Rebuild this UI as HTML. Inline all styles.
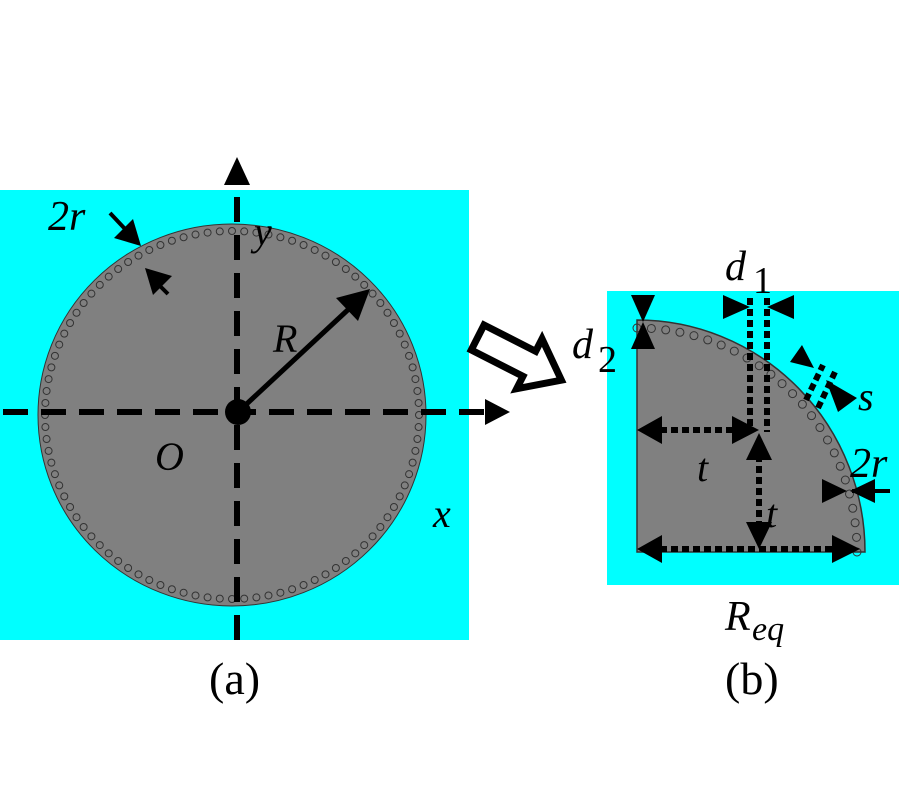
<!DOCTYPE html>
<html><head><meta charset="utf-8"><style>
html,body{margin:0;padding:0;background:#fff;width:900px;height:800px;overflow:hidden}
text{font-family:"Liberation Serif",serif;fill:#000}
.i{font-style:italic}
</style></head><body>
<svg id="s" width="900" height="800" viewBox="0 0 900 800" xmlns="http://www.w3.org/2000/svg">
<!-- (a) -->
<rect x="0" y="190" width="469" height="450" fill="#00ffff"/>
<ellipse cx="232" cy="415" rx="194" ry="191" fill="#808080" stroke="#333" stroke-width="1"/>
<g id="ca" fill="none" stroke="#333" stroke-width="1"></g>
<line x1="237" y1="640" x2="237" y2="185" stroke="#000" stroke-width="6" stroke-dasharray="25,13"/>
<polygon points="237,157 224,185 250,185" fill="#000"/>
<line x1="3" y1="412" x2="485" y2="412" stroke="#000" stroke-width="6" stroke-dasharray="25,13"/>
<polygon points="510,412 485,399 485,425" fill="#000"/>
<circle cx="238" cy="412" r="13" fill="#000"/>
<line x1="238" y1="412" x2="352" y2="306" stroke="#000" stroke-width="5"/>
<polygon points="370,289 336,298 358,321" fill="#000"/>
<line x1="110" y1="213" x2="126" y2="230" stroke="#000" stroke-width="4"/>
<polygon points="141,246 114,238 133,219" fill="#000"/>
<line x1="168" y1="294" x2="155" y2="281" stroke="#000" stroke-width="4"/>
<polygon points="145,268 172,276 153,295" fill="#000"/>
<text x="48" y="230" font-size="42" class="i">2r</text>
<text x="254" y="245" font-size="40" class="i">y</text>
<text x="273" y="352" font-size="40" class="i">R</text>
<text x="155" y="470" font-size="40" class="i">O</text>
<text x="433" y="527" font-size="40" class="i">x</text>
<text x="209" y="694" font-size="46">(a)</text>
<!-- hollow arrow -->
<g transform="translate(484,325) rotate(27)">
<polygon points="0,0 58,0 58,-14 94,14 58,42 58,28 0,28" fill="#fff" stroke="#000" stroke-width="7" stroke-linejoin="miter"/>
</g>
<!-- (b) -->
<rect x="607" y="291" width="292" height="294" fill="#00ffff"/>
<path d="M637,552 L637,320 A228,232 0 0 1 865,552 Z" fill="#808080" stroke="#333" stroke-width="1.5"/>
<g id="cb" fill="none" stroke="#333" stroke-width="1"></g>
<g stroke="#000" stroke-width="6" stroke-dasharray="7,4" fill="none">
<line x1="750" y1="298" x2="750" y2="428"/>
<line x1="767" y1="298" x2="767" y2="432"/>
<line x1="660" y1="430" x2="735" y2="430"/>
<line x1="759" y1="455" x2="759" y2="525"/>
<line x1="660" y1="549" x2="840" y2="549"/>
<line x1="806" y1="400" x2="823" y2="365"/>
<line x1="818" y1="408" x2="835" y2="372"/>
</g>
<g fill="#000">
<polygon points="750,307 723,295 723,319"/><polygon points="767,307 794,295 794,319"/>
<polygon points="643,322 631,295 655,295"/><polygon points="643,322 631,349 655,349"/>
<polygon points="637,430 662,416 662,444"/><polygon points="759,430 732,416 732,444"/>
<polygon points="759,433 746,460 772,460"/><polygon points="759,549 746,522 772,522"/>
<polygon points="637,549 662,535 662,563"/><polygon points="860,549 832,535 832,563"/>
<polygon points="814,368 790,362 802,345"/>
<polygon points="826,380 857,398 838,412"/>
<polygon points="847,491 822,479 822,503"/><polygon points="850,491 875,479 875,503"/>
<line x1="852" y1="491" x2="890" y2="491" stroke="#000" stroke-width="4"/>
</g>
<text x="725" y="280" font-size="42" class="i">d</text><text x="753" y="293" font-size="38">1</text>
<text x="572" y="358" font-size="42" class="i">d</text><text x="598" y="372" font-size="38">2</text>
<text x="858" y="410" font-size="40" class="i">s</text>
<text x="850" y="477" font-size="42" class="i">2r</text>
<text x="697" y="481" font-size="40" class="i">t</text>
<text x="766" y="527" font-size="40" class="i">t</text>
<text x="725" y="630" font-size="42" class="i">R</text><text x="752" y="640" font-size="34" class="i">eq</text>
<text x="725" y="694" font-size="46">(b)</text>
</svg>
<script>
var ns="http://www.w3.org/2000/svg";
var ca=document.getElementById("ca");
for(var k=0;k<96;k++){var a=2*Math.PI*k/96;var c=document.createElementNS(ns,"circle");
c.setAttribute("cx",232+187*Math.cos(a));c.setAttribute("cy",415+184*Math.sin(a));c.setAttribute("r",3.5);ca.appendChild(c);}
var cb=document.getElementById("cb");
for(var k=0;k<=24;k++){var a=Math.PI/2*k/24;var c=document.createElementNS(ns,"circle");
c.setAttribute("cx",637+220*Math.sin(a));c.setAttribute("cy",552-224*Math.cos(a));c.setAttribute("r",4);cb.appendChild(c);}
</script>
</body></html>
